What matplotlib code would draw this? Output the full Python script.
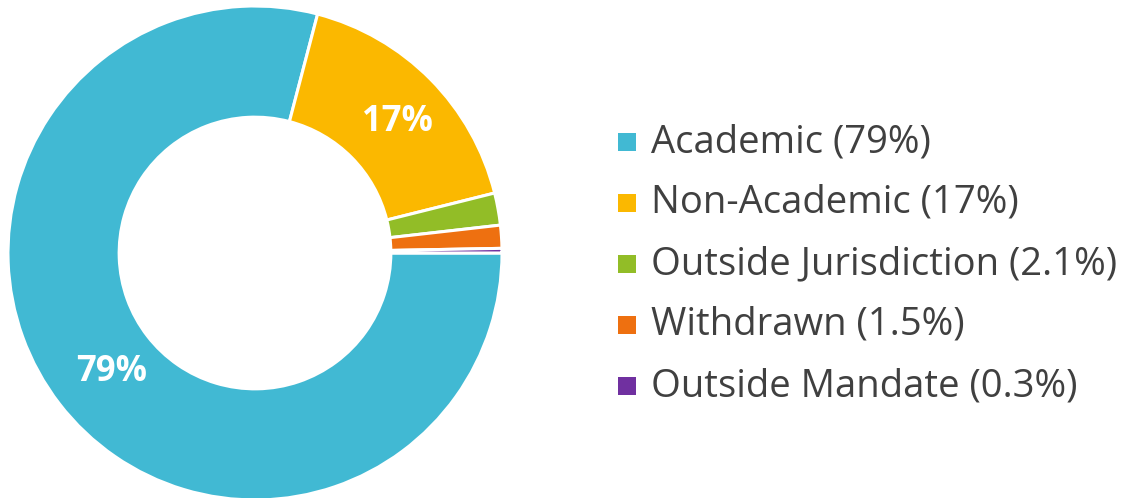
import matplotlib
matplotlib.use("Agg")
import matplotlib.pyplot as plt
from matplotlib.patches import Rectangle
import numpy as np

categories = ["Academic", "Non-Academic", "Outside Jurisdiction", "Withdrawn", "Outside Mandate"]
values = [79, 17, 2.1, 1.5, 0.3]
pct_labels = ["79%", "17%", "", "", ""]
legend_pct = ["79%", "17%", "2.1%", "1.5%", "0.3%"]
colors = ["#41B9D3", "#FBB800", "#92BD27", "#EE7010", "#7030A0"]

W, H = 1127, 498
fig = plt.figure(figsize=(W / 100, H / 100), dpi=100)
fig.patch.set_facecolor("white")

cx, cy, R = 255, 253, 247
ax = fig.add_axes([(cx - R) / W, (H - cy - R) / H, 2 * R / W, 2 * R / H])
wedges, _ = ax.pie(values, colors=colors, startangle=0, counterclock=False,
                   radius=1.0,
                   wedgeprops=dict(width=0.45, edgecolor="white", linewidth=2.2))
ax.set_xlim(-1, 1)
ax.set_ylim(-1, 1)
ax.set_aspect("equal")
ax.axis("off")

total = sum(values)
ang = 0.0
for v, lab in zip(values, pct_labels):
    span = 360 * v / total
    mid = ang - span / 2
    ang -= span
    if lab:
        r = 0.77
        ax.text(r * np.cos(np.radians(mid)) + 0.03, r * np.sin(np.radians(mid)) - 0.01, lab,
                ha="center", va="center", color="white", fontsize=25,
                fontweight="bold", family="Open Sans")

# legend
lx_sq, lx_txt = 618, 651
y0, dy = 142, 61
for i, (c, cat, p) in enumerate(zip(colors, categories, legend_pct)):
    y = y0 + i * dy
    fig.patches.append(Rectangle((lx_sq / W, 1 - (y + 9) / H), 18 / W, 18 / H,
                                 transform=fig.transFigure, facecolor=c,
                                 edgecolor="none"))
    fig.text(lx_txt / W, 1 - y / H, f"{cat} ({p})", ha="left", va="center",
             fontsize=27.5, color="#404040", family="Open Sans")

fig.savefig("out.png", dpi=100, facecolor="white")
